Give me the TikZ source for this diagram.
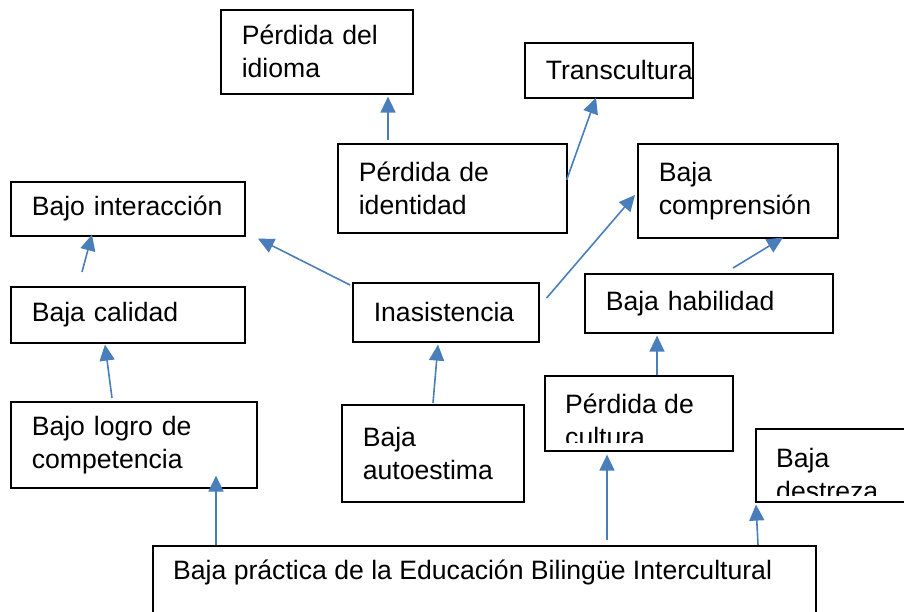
\documentclass[tikz,border=0pt]{standalone}
\usepackage{fontspec}
\setmainfont{Liberation Sans}
\usetikzlibrary{arrows.meta}

\definecolor{arrowblue}{HTML}{4A7EBB}

\tikzset{
  box/.style={draw, line width=1.6pt, anchor=north west, align=left,
    inner xsep=21pt, inner ysep=0pt, font=\fontsize{26.6}{33}\selectfont},
  lbl/.style={anchor=north west, align=left, inner sep=0pt,
    font=\fontsize{26.6}{33}\selectfont},
  arr/.style={draw=arrowblue, line width=1.6pt,
    -{Triangle[length=16pt,width=15pt]}}
}

\begin{document}
\begin{tikzpicture}[x=1pt,y=-1pt]
      \useasboundingbox (0,0) rectangle (904,612);
      \clip (0,0) rectangle (904,612);
      % boxes
      \node[box, minimum width=192, minimum height=84, text width=150] (idioma) at (220,9) {Pérdida del\\idioma};
      \node[box, minimum width=168, minimum height=55, text width=126] (transc) at (524,42) {Transcultura};
      \node[box, minimum width=229, minimum height=89, text width=187] (ident) at (337,143) {Pérdida de\\identidad};
      \node[box, minimum width=200, minimum height=94, text width=158] (compr) at (637,143) {Baja\\comprensión};
      \node[box, minimum width=234, minimum height=54, text width=192] (inter) at (10,181) {Bajo interacción};
      \node[box, minimum width=234, minimum height=56, text width=192] (calid) at (10,286) {Baja calidad};
      \node[box, minimum width=186, minimum height=59, text width=144] (inas) at (352,282) {Inasistencia};
      \node[box, minimum width=248, minimum height=59, text width=206] (habil) at (584,273) {Baja habilidad};
      \node[box, minimum width=246, minimum height=86, text width=204] (logro) at (10,401) {Bajo logro de\\competencia};
      \node[box, minimum width=182, minimum height=97, text width=140] (autoe) at (341,404) {Baja\\autoestima};
      \node[box, minimum width=188, minimum height=75] (cult) at (544,375) {};
      \node[box, minimum width=180, minimum height=73] (destr) at (755,428) {};
      \node[box, minimum width=663, minimum height=90] (pract) at (152,545) {};
      % texts cut off by their boxes
      \begin{scope}
        \clip (cult.north west) rectangle ([shift={(0,-9)}]cult.south east);
        \node[lbl] (cultT) at ([shift={(21,19)}]cult.north west) {Pérdida de\\cultura};
      \end{scope}
      \begin{scope}
        \clip (destr.north west) rectangle ([shift={(0,-7)}]destr.south east);
        \node[lbl] (destrT) at ([shift={(21,20)}]destr.north west) {Baja\\destreza};
      \end{scope}
      \node[lbl] (practT) at ([shift={(21,15)}]pract.north west) {Baja práctica de la Educación Bilingüe Intercultural};
      % arrows
      \draw[arr] ([shift={(51,-3)}]ident.north west) -- ([shift={(168,2)}]idioma.south west);
      \draw[arr] ([shift={(-1,37)}]ident.north east) -- ([shift={(72,-1)}]transc.south west);
      \draw[arr] ([shift={(-2,3)}]inas.north west) -- ([shift={(248,2)}]inter.south west);
      \draw[arr] ([shift={(7,16)}]inas.north east) -- ([shift={(-2,52)}]compr.north west);
      \draw[arr] ([shift={(72,-14)}]calid.north west) -- ([shift={(82,-2)}]inter.south west);
      \draw[arr] ([shift={(149,-5)}]habil.north west) -- ([shift={(146,-1)}]compr.south west);
      \draw[arr] ([shift={(102,-3)}]logro.north west) -- ([shift={(95,1)}]calid.south west);
      \draw[arr] ([shift={(92,-1)}]autoe.north west) -- ([shift={(86,2)}]inas.south west);
      \draw[arr] ([shift={(113,0)}]cult.north west) -- ([shift={(73,2)}]habil.south west);
      \draw[arr] ([shift={(64,0)}]pract.north west) -- ([shift={(206,-13)}]logro.south west);
      \draw[arr] ([shift={(455,-5)}]pract.north west) -- ([shift={(63,3)}]cult.south west);
      \draw[arr] ([shift={(606,0)}]pract.north west) -- ([shift={(1,2)}]destr.south west);
\end{tikzpicture}
\end{document}
